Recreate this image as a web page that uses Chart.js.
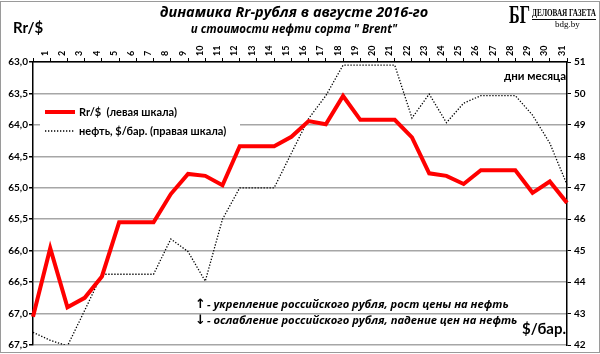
<!DOCTYPE html>
<html>
<head>
<meta charset="utf-8">
<script src="https://cdn.jsdelivr.net/npm/chart.js@4/dist/chart.umd.min.js"></script>
<style>
  html, body { margin: 0; padding: 0; background: #fff; }
  #wrap { position: relative; width: 600px; height: 354px; }
</style>
</head>
<body>
<div id="wrap"><canvas id="chart" width="600" height="354"></canvas></div>
<script>
// first point is the last day of July (no label)
var days = ['', '1', '2', '3', '4', '5', '6', '7', '8', '9', '10', '11', '12', '13', '14', '15',
  '16', '17', '18', '19', '20', '21', '22', '23', '24', '25', '26', '27', '28', '29', '30', '31'];

var rubUsd = [67.05, 65.96, 66.9, 66.75, 66.41, 65.55, 65.55, 65.55, 65.1, 64.78, 64.81, 64.96,
  64.34, 64.34, 64.34, 64.19, 63.94, 63.99, 63.54, 63.92, 63.92, 63.92, 64.2, 64.77, 64.81,
  64.94, 64.72, 64.72, 64.72, 65.08, 64.9, 65.24];

var brent = [42.4, 42.15, 41.97, 43.1, 44.25, 44.25, 44.25, 44.25, 45.37, 44.97, 44.03, 46.0,
  47.0, 47.0, 47.0, 48.1, 49.2, 49.93, 50.9, 50.9, 50.9, 50.9, 49.22, 49.98, 49.07, 49.69,
  49.93, 49.93, 49.93, 49.31, 48.42, 47.1];

var rubTicks = [63.0, 63.5, 64.0, 64.5, 65.0, 65.5, 66.0, 66.5, 67.0, 67.5];
var brentTicks = [42, 43, 44, 45, 46, 47, 48, 49, 50, 51];

var labelFont = 'Lato, "Open Sans", sans-serif';

function comma(v) {
  return v.toFixed(1).replace('.', ',');
}

// squeeze a text horizontally so it fits a given width
function fitText(ctx, text, x, y, width) {
  var w = ctx.measureText(text).width;
  ctx.save();
  ctx.translate(x, y);
  ctx.scale(width / w, 1);
  ctx.fillText(text, 0, 0);
  ctx.restore();
}

var decorations = {
  id: 'decorations',
  beforeDatasetsDraw: function (chart) {
    var ctx = chart.ctx;
    ctx.save();
    ctx.fillStyle = '#fff';
    ctx.fillRect(40, 101, 200, 40);
    ctx.restore();
  },
  afterDraw: function (chart) {
    var ctx = chart.ctx;
    ctx.save();
    ctx.fillStyle = '#000';
    ctx.textBaseline = 'middle';

    // titles
    ctx.textAlign = 'center';
    ctx.font = 'italic bold 14.5px "Open Sans"';
    ctx.fillText('динамика Rr-рубля в августе 2016-го', 294, 13);
    ctx.font = 'italic bold 11.5px "Open Sans"';
    ctx.fillText('и стоимости нефти сорта " Brent"', 294, 30);

    ctx.textAlign = 'left';
    ctx.font = 'bold 15px ' + labelFont;
    ctx.fillText('Rr/$', 13, 28);

    // logo
    ctx.font = 'bold 26px "Liberation Serif"';
    fitText(ctx, 'БГ', 509, 16, 21);
    ctx.font = 'bold 11px "Liberation Serif"';
    fitText(ctx, 'ДЕЛОВАЯ ГАЗЕТА', 532, 13, 64);
    ctx.fillRect(532, 19, 64, 1);
    ctx.font = '9px "Liberation Serif"';
    ctx.fillText('bdg.by', 555, 25);

    // legend
    ctx.strokeStyle = '#ff0000';
    ctx.lineWidth = 4;
    ctx.beginPath(); ctx.moveTo(45, 112); ctx.lineTo(75, 112); ctx.stroke();
    ctx.strokeStyle = '#000';
    ctx.lineWidth = 1.3;
    ctx.setLineDash([1.3, 1.7]);
    ctx.beginPath(); ctx.moveTo(45, 131); ctx.lineTo(74, 131); ctx.stroke();
    ctx.setLineDash([]);
    ctx.font = 'bold 11px ' + labelFont;
    ctx.fillText('Rr/$  (левая шкала)', 79, 112);
    ctx.fillText('нефть, $/бар. (правая шкала)', 79, 131);

    ctx.font = 'bold 11.5px ' + labelFont;
    ctx.textAlign = 'right';
    ctx.fillText('дни месяца', 566, 76);
    ctx.font = 'bold 15px ' + labelFont;
    ctx.fillText('$/бар.', 566, 329);

    // notes
    ctx.textAlign = 'left';
    ctx.font = 'bold 13px "DejaVu Sans"';
    ctx.fillText('↑', 195, 305);
    ctx.fillText('↓', 195, 321);
    ctx.font = 'italic bold 11.2px "Open Sans"';
    ctx.fillText('- укрепление российского рубля, рост цены на нефть', 207, 305);
    ctx.fillText('- ослабление российского рубля, падение цен на нефть', 207, 321);

    // outer frame
    ctx.strokeStyle = '#9a9a9a';
    ctx.lineWidth = 1;
    ctx.strokeRect(0.5, 1.5, 599, 351);
    ctx.restore();
  }
};

var ctx = document.getElementById('chart');
var chart = new Chart(ctx, {
  type: 'line',
  data: {
    labels: days,
    datasets: [
      {
        label: 'Rr/$  (левая шкала)',
        data: rubUsd,
        yAxisID: 'y',
        borderColor: '#ff0000',
        borderWidth: 4,
        pointRadius: 0,
        tension: 0,
        borderJoinStyle: 'miter'
      },
      {
        label: 'нефть, $/бар. (правая шкала)',
        data: brent,
        yAxisID: 'y2',
        borderColor: '#000',
        borderWidth: 1.3,
        borderDash: [1.3, 1.7],
        pointRadius: 0,
        tension: 0
      }
    ]
  },
  options: {
    responsive: false,
    animation: false,
    layout: { padding: { left: 0, right: 0, top: 0, bottom: 9 } },
    plugins: {
      legend: { display: false },
      tooltip: { enabled: false }
    },
    scales: {
      x: {
        position: 'top',
        offset: false,
        afterFit: function (scale) { scale.height = 62; },
        grid: { drawOnChartArea: false, color: '#000', tickLength: 4 },
        border: { color: '#000', width: 1.5 },
        ticks: {
          autoSkip: false,
          minRotation: 90,
          maxRotation: 90,
          labelOffset: 5.5,
          padding: 2,
          color: '#000',
          font: { family: labelFont, size: 9, weight: 'bold' }
        }
      },
      y: {
        position: 'left',
        reverse: true,
        min: 63,
        max: 67.5,
        afterFit: function (scale) { scale.width = 33; },
        afterBuildTicks: function (scale) {
          scale.ticks = rubTicks.map(function (v) { return { value: v }; });
        },
        grid: { color: '#a6a6a6', lineWidth: 1.5, tickLength: 4, tickColor: '#000' },
        border: { color: '#000', width: 1.5 },
        ticks: {
          padding: 1,
          color: '#000',
          font: { family: labelFont, size: 10, weight: 'bold' },
          callback: function (v) { return comma(v); }
        }
      },
      y2: {
        position: 'right',
        min: 42,
        max: 51,
        afterFit: function (scale) { scale.width = 33; },
        afterBuildTicks: function (scale) {
          scale.ticks = brentTicks.map(function (v) { return { value: v }; });
        },
        grid: { drawOnChartArea: false, tickLength: 4, color: '#000' },
        border: { color: '#000', width: 1.5 },
        ticks: {
          padding: 3,
          color: '#000',
          font: { family: labelFont, size: 10, weight: 'bold' }
        }
      }
    }
  },
  plugins: [decorations]
});
</script>
</body>
</html>
